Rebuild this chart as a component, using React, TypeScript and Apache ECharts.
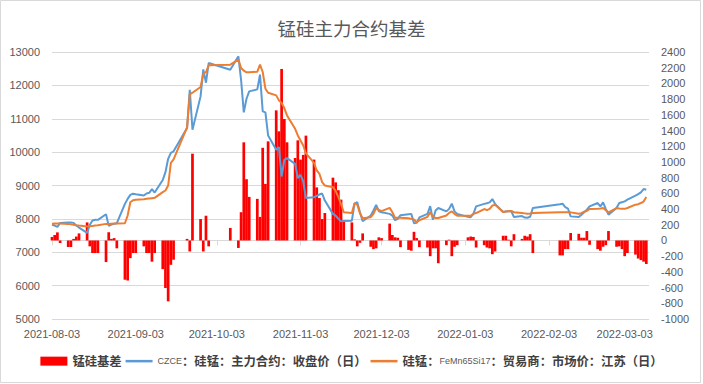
import React, { useEffect, useRef } from "react";
import * as echarts from "echarts";

const chartTitle = "锰硅主力合约基差";
const seriesNames = [
  "锰硅基差",
  "CZCE：硅锰：主力合约：收盘价（日）",
  "硅锰：FeMn65Si17：贸易商：市场价：江苏（日）",
];
const axisStart = "2021-08-03";
const axisEnd = "2022-03-12";
const leftAxis = { min: 5000, max: 13000, interval: 1000 };
const rightAxis = { min: -1000, max: 2400, interval: 200 };

const tradeDates = [
  "2021-08-03","2021-08-04","2021-08-05","2021-08-06","2021-08-09","2021-08-10","2021-08-11","2021-08-12","2021-08-13",
  "2021-08-16","2021-08-17","2021-08-18","2021-08-19","2021-08-20","2021-08-23","2021-08-24","2021-08-25","2021-08-26","2021-08-27",
  "2021-08-30","2021-08-31","2021-09-01","2021-09-02","2021-09-03","2021-09-06","2021-09-07","2021-09-08","2021-09-09","2021-09-10",
  "2021-09-13","2021-09-14","2021-09-15","2021-09-16","2021-09-17","2021-09-22","2021-09-23","2021-09-24",
  "2021-09-27","2021-09-28","2021-09-29","2021-09-30","2021-10-08","2021-10-11","2021-10-12","2021-10-13","2021-10-14","2021-10-15",
  "2021-10-18","2021-10-19","2021-10-20","2021-10-21","2021-10-22","2021-10-25","2021-10-26","2021-10-27","2021-10-28","2021-10-29",
  "2021-11-01","2021-11-02","2021-11-03","2021-11-04","2021-11-05","2021-11-08","2021-11-09","2021-11-10","2021-11-11","2021-11-12",
  "2021-11-15","2021-11-16","2021-11-17","2021-11-18","2021-11-19","2021-11-22","2021-11-23","2021-11-24","2021-11-25","2021-11-26",
  "2021-11-29","2021-11-30","2021-12-01","2021-12-02","2021-12-03","2021-12-06","2021-12-07","2021-12-08","2021-12-09","2021-12-10",
  "2021-12-13","2021-12-14","2021-12-15","2021-12-16","2021-12-17","2021-12-20","2021-12-21","2021-12-22","2021-12-23","2021-12-24",
  "2021-12-27","2021-12-28","2021-12-29","2021-12-30","2021-12-31","2022-01-04","2022-01-05","2022-01-06","2022-01-07",
  "2022-01-10","2022-01-11","2022-01-12","2022-01-13","2022-01-14","2022-01-17","2022-01-18","2022-01-19","2022-01-20","2022-01-21",
  "2022-01-24","2022-01-25","2022-01-26","2022-01-27","2022-01-28","2022-02-07","2022-02-08","2022-02-09","2022-02-10","2022-02-11",
  "2022-02-14","2022-02-15","2022-02-16","2022-02-17","2022-02-18","2022-02-21","2022-02-22","2022-02-23","2022-02-24","2022-02-25",
  "2022-02-28","2022-03-01","2022-03-02","2022-03-03","2022-03-04","2022-03-07","2022-03-08","2022-03-09","2022-03-10","2022-03-11",
];

const futuresClose = [
  7825,7800,7760,7880,7895,7895,7880,7800,7740,
  7580,7825,7950,7975,7970,8140,7790,7830,7850,7870,
  8450,8600,8720,8755,8740,8700,8760,8780,8890,8790,
  9165,9400,9800,9980,10025,10720,11870,10670,
  11670,12480,12080,12670,12470,12870,12160,11190,11600,11820,
  11880,12320,11220,11190,10500,10070,10150,9270,9770,9820,
  9650,9225,9320,9125,8625,8650,8690,8730,8760,8550,
  8150,8100,8000,7925,7940,7945,8460,8500,8200,7930,
  8100,8250,8420,8230,8200,8150,8100,7960,8000,8110,
  8140,8150,7870,7880,8045,8150,8380,7975,8250,8325,
  8225,8300,8455,8225,8150,8060,8050,8150,8375,
  8450,8470,8495,8595,8450,8205,8220,8230,8235,8055,
  8085,8040,8035,8065,8325,8440,8455,8355,8310,8075,
  8055,8125,8200,8275,8375,8475,8375,8495,8300,8125,
  8330,8475,8500,8525,8575,8695,8740,8795,8895,8875,
];

const spotPrice = [
  7855,7860,7860,7860,7850,7840,7825,7810,7800,
  7775,7780,7790,7800,7810,7850,7850,7855,7860,7865,
  7870,8100,8500,8560,8575,8590,8600,8610,8620,8630,
  8800,8850,9000,9680,9780,10740,11730,11780,
  11950,12340,12400,12600,12620,12770,12520,12440,12390,12390,
  12410,12620,12400,11900,11780,11700,11550,11470,11320,11100,
  10700,10500,10350,10200,9960,9680,9450,9350,9100,9000,
  8950,8840,8650,8450,8200,8175,8470,8430,8170,8020,
  8050,8150,8320,8270,8230,8330,8200,8030,8030,8030,
  8020,8000,7980,7900,7960,8060,8200,8060,8025,8025,
  8100,8180,8225,8150,8095,8095,8095,8150,8175,
  8295,8260,8300,8400,8420,8205,8220,8230,8235,8200,
  8175,8165,8155,8160,8175,8195,8195,8195,8195,8195,
  8155,8170,8215,8240,8295,8300,8310,8325,8260,8195,
  8325,8310,8300,8300,8325,8425,8440,8475,8520,8655,
];

const basis = [
  45,70,103,-32,-83,-83,20,50,90,
  230,-75,-160,-160,-160,-275,105,20,30,-100,
  -500,-510,-225,-160,-160,-75,-160,-160,-270,-160,
  -365,-605,-775,-310,-245,20,-140,1105,
  273,-140,315,-75,160,-95,360,1250,780,555,
  530,300,1180,720,1262,1657,1390,2184,1547,1250,
  1050,1275,1030,1090,1335,1030,676,540,273,350,
  800,740,640,520,260,230,15,-75,-30,90,
  -80,-110,-100,40,30,215,70,40,35,-85,
  -120,-130,110,30,-85,-90,-200,-100,-100,-290,
  -60,10,-200,-80,-60,40,50,45,-90,
  -60,-90,-100,-175,-140,60,60,10,-75,80,
  20,60,50,80,-160,-190,-190,-110,-110,95,
  85,35,35,120,-55,-110,-130,-80,-60,120,
  -80,-75,-110,-200,-160,-180,-230,-250,-270,-300,
];

function buildCalendar(start: string, end: string): string[] {
  const out: string[] = [];
  const d = new Date(start + "T00:00:00Z");
  const e = new Date(end + "T00:00:00Z");
  while (d.getTime() <= e.getTime()) {
    out.push(d.toISOString().slice(0, 10));
    d.setUTCDate(d.getUTCDate() + 1);
  }
  return out;
}

function richName(name: string): string {
  return name
    .split(/([A-Za-z0-9]+)/)
    .filter((s) => s.length > 0)
    .map((s) => (/^[A-Za-z0-9]+$/.test(s) ? `{l|${s}}` : `{z|${s}}`))
    .join("");
}

const lineIcon = "path://M0,0 L27,0 L27,2.5 L0,2.5 Z";

export default function App() {
  const ref = useRef<HTMLDivElement>(null);

  useEffect(() => {
    if (!ref.current) return;
    const chart = echarts.init(ref.current, undefined, { renderer: "svg" });
    const calendar = buildCalendar(axisStart, axisEnd);
    const idx: Record<string, number> = {};
    tradeDates.forEach((t, i) => (idx[t] = i));
    const pick = (arr: number[]) =>
      calendar.map((c) => (idx[c] !== undefined ? arr[idx[c]] : null));

    const labelFont = "'Liberation Sans', Arial, sans-serif";
    const cjkFont = "'Noto Sans CJK SC', 'Microsoft YaHei', sans-serif";
    const plain = (v: number) => String(v);

    chart.setOption({
      animation: false,
      backgroundColor: "#ffffff",
      title: {
        text: chartTitle,
        left: "center",
        top: 14,
        textStyle: {
          fontSize: 18.5,
          fontWeight: "normal",
          color: "#595959",
          fontFamily: cjkFont,
        },
      },
      graphic: [
        {
          type: "rect",
          shape: { x: 0.5, y: 0.5, width: 700, height: 382 },
          style: { fill: "none", stroke: "#D9D9D9", lineWidth: 1 },
          silent: true,
        },
      ],
      legend: {
        left: "center",
        top: 350,
        itemWidth: 27,
        itemHeight: 9,
        itemGap: 4,
        data: [
          { name: seriesNames[0], icon: "rect" },
          { name: seriesNames[1], icon: lineIcon },
          { name: seriesNames[2], icon: lineIcon },
        ],
        formatter: (name: string) => richName(name),
        textStyle: {
          rich: {
            z: {
              fontSize: 12.3,
              fontFamily: cjkFont,
              fontWeight: "bold",
              color: "#404040",
            },
            l: {
              fontSize: 9,
              fontFamily: labelFont,
              color: "#595959",
            },
          },
        },
      },
      grid: { left: 52, right: 54, top: 52, bottom: 65 },
      xAxis: {
        type: "category",
        data: calendar,
        boundaryGap: false,
        axisLine: { lineStyle: { color: "#D9D9D9", width: 1 } },
        axisTick: {
          show: true,
          length: 5,
          lineStyle: { color: "#D9D9D9" },
          interval: (_i: number, v: string) => v.endsWith("-03"),
        },
        axisLabel: {
          color: "#595959",
          fontSize: 11,
          fontFamily: labelFont,
          margin: 9,
          interval: (_i: number, v: string) => v.endsWith("-03"),
        },
        splitLine: { show: false },
      },
      yAxis: [
        {
          type: "value",
          position: "left",
          min: leftAxis.min,
          max: leftAxis.max,
          interval: leftAxis.interval,
          axisLine: { show: false },
          axisTick: { show: false },
          axisLabel: {
            color: "#595959",
            fontSize: 11,
            fontFamily: labelFont,
            margin: 12,
            formatter: plain,
          },
          splitLine: { lineStyle: { color: "#D9D9D9", width: 1 } },
        },
        {
          type: "value",
          position: "right",
          min: rightAxis.min,
          max: rightAxis.max,
          interval: rightAxis.interval,
          axisLine: { show: false },
          axisTick: { show: false },
          axisLabel: {
            color: "#595959",
            fontSize: 11,
            fontFamily: labelFont,
            margin: 12,
            formatter: plain,
          },
          splitLine: { show: false },
        },
      ],
      series: [
        {
          name: seriesNames[0],
          type: "bar",
          yAxisIndex: 1,
          data: pick(basis),
          barWidth: "100%",
          itemStyle: { color: "#FF0000" },
        },
        {
          name: seriesNames[1],
          type: "line",
          yAxisIndex: 0,
          data: pick(futuresClose),
          connectNulls: true,
          symbol: "none",
          lineStyle: { color: "#5B9BD5", width: 2 },
          itemStyle: { color: "#5B9BD5" },
        },
        {
          name: seriesNames[2],
          type: "line",
          yAxisIndex: 0,
          data: pick(spotPrice),
          connectNulls: true,
          symbol: "none",
          lineStyle: { color: "#ED7D31", width: 2 },
          itemStyle: { color: "#ED7D31" },
        },
      ],
    });
    return () => chart.dispose();
  }, []);

  return (
    <div
      ref={ref}
      style={{ position: "absolute", left: 0, top: 0, width: 703, height: 384 }}
    />
  );
}
